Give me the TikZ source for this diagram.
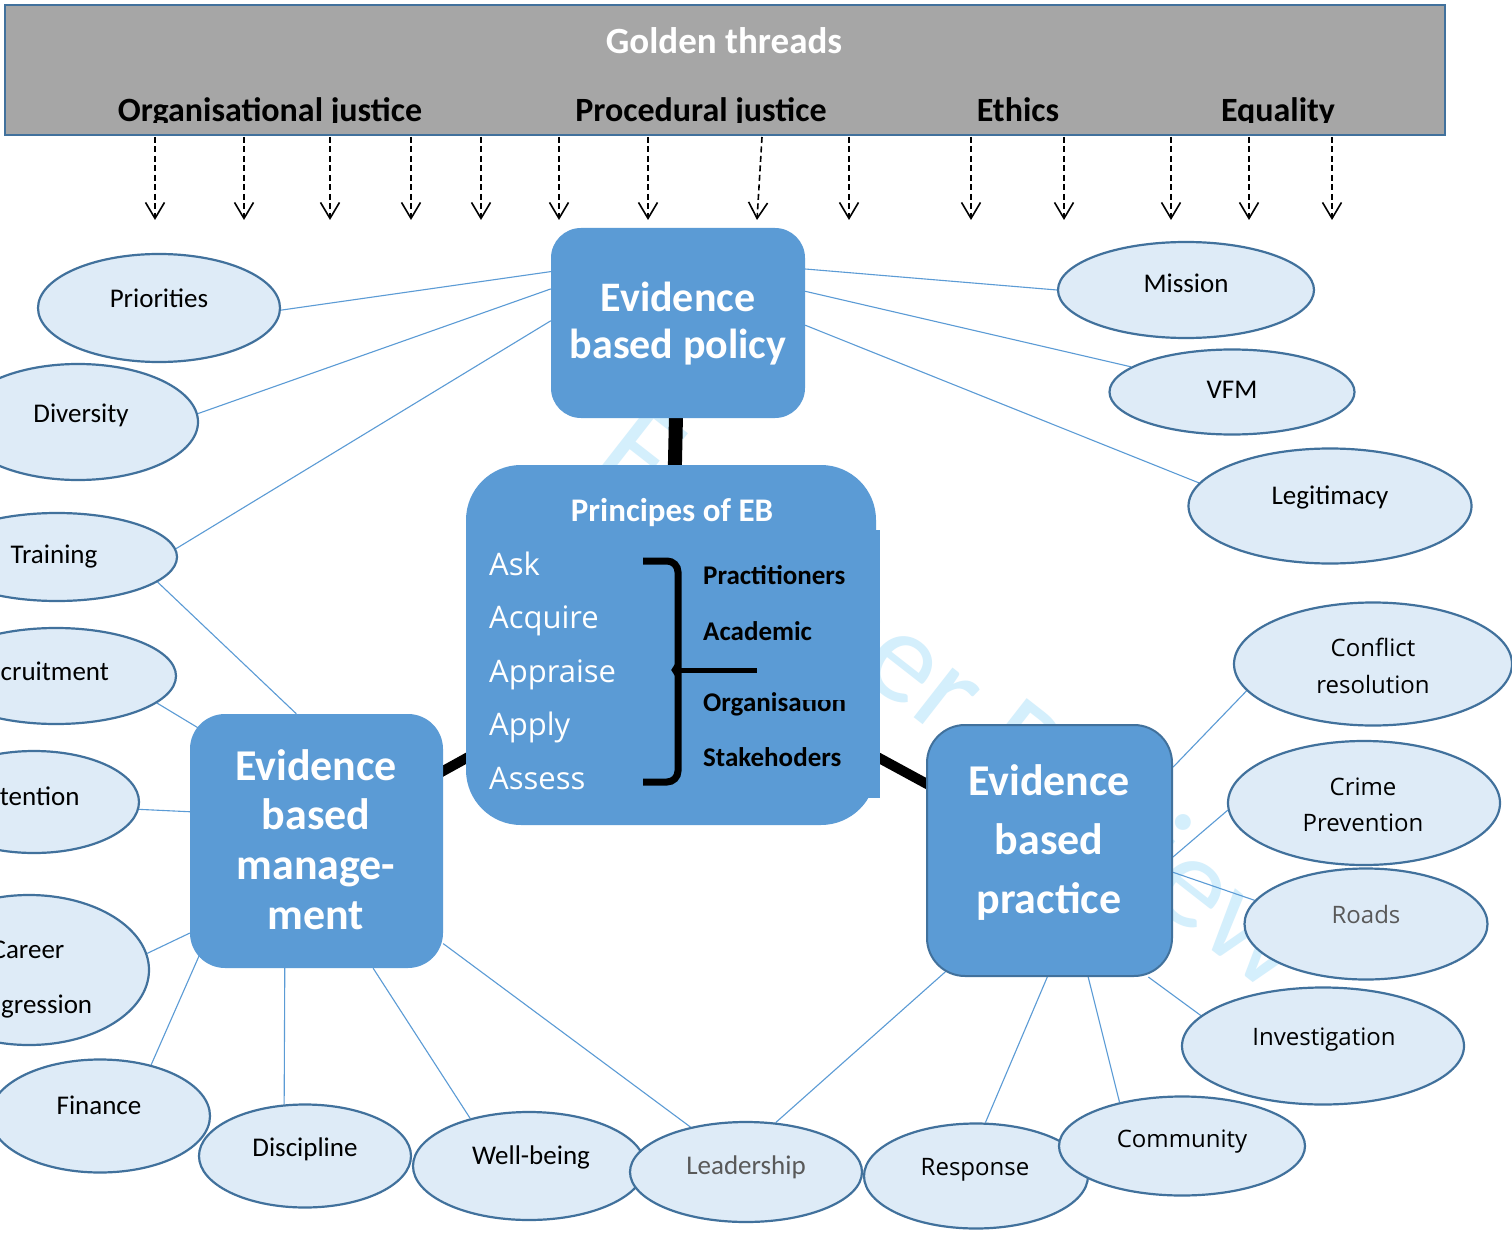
\documentclass[tikz,border=0pt]{standalone}
\usepackage{fontspec}
\setmainfont{Carlito}
\newfontfamily\osans{Open Sans}
\usetikzlibrary{arrows.meta,shapes.geometric}
\pgfdeclarelayer{bg}
\pgfsetlayers{bg,main}
\definecolor{boxblue}{RGB}{91,155,213}
\definecolor{edgeblue}{RGB}{65,113,156}
\definecolor{ellfill}{RGB}{222,235,247}
\definecolor{bannergray}{RGB}{166,166,166}
\definecolor{wmark}{RGB}{212,239,252}
\definecolor{txtgray}{RGB}{89,89,89}
\begin{document}
\begin{tikzpicture}[x=1pt,y=-1pt,
  ell/.style={ellipse, draw=edgeblue, line width=2.2pt, fill=ellfill, inner sep=0pt},
  lbl/.style={anchor=base, font=\fontsize{27}{32}\selectfont, inner sep=0pt},
  olbl/.style={anchor=base, font=\osans\fontsize{24}{29}\selectfont, inner sep=0pt},
  bigbox/.style={rectangle, fill=boxblue, inner sep=0pt},
  boxtxt/.style={anchor=base, text=white, font=\bfseries\fontsize{44}{50}\selectfont, inner sep=0pt},
  link/.style={draw=boxblue, line width=1.1pt},
  heavy/.style={draw=black, line width=10pt},
  thread/.style={draw=black, line width=1.6pt, dash pattern=on 6pt off 3.5pt, -{Straight Barb[length=16pt,width=19pt]}},
  bantxt/.style={anchor=base, font=\bfseries\fontsize{34}{40}\selectfont, inner sep=0pt},
  asktxt/.style={anchor=base west, text=white, font=\osans\fontsize{31}{36}\selectfont, inner sep=0pt},
  whotxt/.style={anchor=base west, font=\bfseries\fontsize{27}{32}\selectfont, inner sep=0pt},
]
\useasboundingbox (0,0) rectangle (1512,1233);
\begin{pgfonlayer}{bg}
  \fill[white] (0,0) rectangle (1512,1233);
  \node[font=\fontsize{132}{140}\selectfont, text=wmark, rotate=-38] (wmk) at (958,695) {For Peer Review};
\end{pgfonlayer}

% banner
\node[draw=edgeblue, line width=2pt, fill=bannergray, minimum width=1440pt, minimum height=130pt, inner sep=0pt] (gt) at (725,70) {};
\node[anchor=base, text=white, font=\bfseries\fontsize{37}{44}\selectfont, inner sep=0pt] (gtt) at (724,54) {Golden threads};
\begin{scope}
  \clip (5,5) rectangle (1445,123);
  \node[bantxt] (oj) at (270,122) {Organisational justice};
  \node[bantxt] (pj) at (701,122) {Procedural justice};
  \node[bantxt] (et) at (1018,122) {Ethics};
  \node[bantxt] (eq) at (1278,122) {Equality};
\end{scope}

% threads
\foreach \i/\xa/\xb in {1/155/155, 2/244/244, 3/330/330, 4/411/411, 5/481/481, 6/559/559, 7/648/648, 8/762/757, 9/849/849, 10/971/971, 11/1064/1064, 12/1171/1171, 13/1249/1249, 14/1332/1332} {
  \coordinate (ts\i) at (\xa,137);
  \coordinate (te\i) at (\xb,220);
  \draw[thread] (ts\i) -- (te\i);
}

% main boxes
\node[bigbox, minimum width=254pt, minimum height=190pt, rounded corners=30pt] (pol) at (678,323) {};
\node[bigbox, minimum width=410pt, minimum height=360pt, rounded corners=55pt] (prin) at (671,645) {};
\fill[boxblue] (720,530) rectangle (880,798);
\node[bigbox, minimum width=253pt, minimum height=254pt, rounded corners=35pt] (mgmt) at (316.5,841) {};
\node[bigbox, draw=edgeblue, line width=2pt, minimum width=245pt, minimum height=251pt, rounded corners=38pt] (prac) at (1049.5,850.5) {};

% box texts
\node[boxtxt, font=\bfseries\fontsize{42}{46}\selectfont] (pol1) at (678,312) {Evidence};
\node[boxtxt, font=\bfseries\fontsize{42}{46}\selectfont] (pol2) at (678,358) {based policy};
\node[boxtxt] (mg1) at (316,780) {Evidence};
\node[boxtxt] (mg2) at (316,829) {based};
\node[boxtxt] (mg3) at (316,879) {manage-};
\node[boxtxt] (mg4) at (316,929) {ment};
\node[boxtxt] (pr1) at (1049,795) {Evidence};
\node[boxtxt] (pr2) at (1049,854) {based};
\node[boxtxt] (pr3) at (1049,913) {practice};

% principles content
\node[anchor=base, text=white, font=\bfseries\fontsize{33}{40}\selectfont, inner sep=0pt] (prt) at (672,521) {Principes of EB};
\node[asktxt] (ask) at (489,575) {Ask};
\node[asktxt] (acq) at (489,628) {Acquire};
\node[asktxt] (app) at (489,682) {Appraise};
\node[asktxt] (apl) at (489,735) {Apply};
\node[asktxt] (ass) at (489,789) {Assess};
\node[whotxt] (w1) at (703,584) {Practitioners};
\node[whotxt] (w2) at (703,640) {Academic};
\node[whotxt] (w3) at (703,711) {Organisation};
\node[whotxt] (w4) at (703,766) {Stakehoders};
\fill[boxblue] (799,680) rectangle (852,700);
\draw[line width=7pt, rounded corners=11pt] (643,561) -- (678,561) -- (678,668) -- (678,782) -- (643,782);
\draw[line width=3pt] (678,662) -- (673,670) -- (678,678);
\draw[line width=5pt] (676,670) -- (757,670);

% ellipses
\node[ell, minimum width=242pt, minimum height=108pt] (pri) at (159,308) {};
\node[ell, minimum width=240pt, minimum height=116pt] (div) at (78,422) {};
\node[ell, minimum width=240pt, minimum height=88pt] (tra) at (57,557) {};
\node[ell, minimum width=240pt, minimum height=96pt] (rec) at (56,676) {};
\node[ell, minimum width=210pt, minimum height=102pt] (ret) at (34,802) {};
\node[ell, minimum width=240pt, minimum height=150pt] (car) at (29,970) {};
\node[ell, minimum width=220pt, minimum height=113pt] (fin) at (100,1116) {};
\node[ell, minimum width=212pt, minimum height=103pt] (dis) at (305,1156) {};
\node[ell, minimum width=232pt, minimum height=108pt] (wel) at (529,1166) {};
\node[ell, minimum width=232pt, minimum height=100pt] (lea) at (746,1172) {};
\node[ell, minimum width=224pt, minimum height=105pt] (res) at (976,1176) {};
\node[ell, minimum width=246pt, minimum height=99pt] (com) at (1182,1146) {};
\node[ell, minimum width=282pt, minimum height=117pt] (inv) at (1323,1046) {};
\node[ell, minimum width=272pt, minimum height=124pt] (cri) at (1364,803) {};
\node[ell, minimum width=243pt, minimum height=111pt] (roa) at (1366,924) {};
\node[ell, minimum width=278pt, minimum height=123pt] (con) at (1373,664) {};
\node[ell, minimum width=283pt, minimum height=115pt] (leg) at (1330,506) {};
\node[ell, minimum width=245pt, minimum height=85pt] (vfm) at (1232,392) {};
\node[ell, minimum width=256pt, minimum height=96pt] (mis) at (1186,290) {};

% ellipse labels
\node[lbl] (tpri) at (159,308) {Priorities};
\node[lbl] (tdiv) at (81,422) {Diversity};
\node[lbl] (ttra) at (54,563) {Training};
\node[lbl] (trec) at (41,680) {Recruitment};
\node[lbl] (tret) at (26,805) {Retention};
\node[lbl] (tcar1) at (28,958) {Career};
\node[lbl] (tcar2) at (28,1013) {progression};
\node[lbl] (tfin) at (99,1114) {Finance};
\node[lbl] (tdis) at (305,1156) {Discipline};
\node[lbl] (twel) at (531,1164) {Well-being};
\node[lbl, text=txtgray] (tlea) at (746,1174) {Leadership};
\node[olbl] (tres) at (975,1175) {Response};
\node[olbl] (tcom) at (1182,1147) {Community};
\node[olbl] (tinv) at (1324,1045) {Investigation};
\node[olbl, text=txtgray] (troa) at (1366,923) {Roads};
\node[olbl] (tcri1) at (1363,795) {Crime};
\node[olbl] (tcri2) at (1363,831) {Prevention};
\node[olbl] (tcon1) at (1373,656) {Conflict};
\node[olbl] (tcon2) at (1373,693) {resolution};
\node[lbl] (tleg) at (1330,504) {Legitimacy};
\node[lbl] (tvfm) at (1232,398) {VFM};
\node[lbl] (tmis) at (1186,292) {Mission};

% connectors
\begin{pgfonlayer}{bg}
  \draw[heavy, line width=14pt] (pol.center) -- (prin.center);
  \draw[heavy] (mgmt.center) -- (prin.center);
  \draw[heavy] (prin.center) -- (prac.center);
  \draw[link] (pol.158) -- (pri.-1);
  \draw[link] (pol.165) -- (div.4);
  \draw[link] (pol.179) -- (tra.4);
  \draw[link] (pol.23) -- (mis.180);
  \draw[link] (pol.14) -- (vfm.166);
  \draw[link] (pol.-1) -- (leg.170);
  \draw[link] (tra.-14) -- (mgmt.99);
  \draw[link, shorten >=-12pt] (rec.-15) -- (mgmt.137);
  \draw[link] (ret.-4) -- (mgmt.167);
  \draw[link] (car.8) -- (mgmt.216);
  \draw[link, shorten >=-25pt] (fin.45) -- (mgmt.226);
  \draw[link] (dis.112) -- (mgmt.256);
  \draw[link] (wel.141) -- (mgmt.-66);
  \draw[link] (lea.141) -- (mgmt.-39);
  \draw[link, shorten >=-20pt] (lea.59) -- (prac.229);
  \draw[link] (res.80) -- (prac.269);
  \draw[link] (com.145) -- (prac.-73);
  \draw[link] (inv.166) -- (prac.-52);
  \draw[link] (roa.168) -- (prac.-10);
  \draw[link] (cri.183) -- (prac.-3);
  \draw[link] (con.192) -- (prac.34);
\end{pgfonlayer}
\end{tikzpicture}
\end{document}
